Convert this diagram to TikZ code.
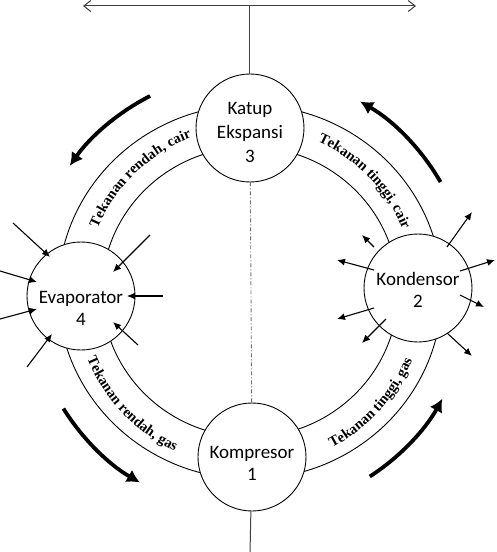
\documentclass[tikz,border=0pt]{standalone}
\usepackage{fontspec}
\setmainfont{Carlito}
\newfontfamily\serifb{Liberation Serif Bold}
\usepackage{tikz}
\usetikzlibrary{shapes, arrows.meta, positioning, decorations.text}
\tikzstyle{unit} = [draw, circle, fill=white, line width=0.9pt, minimum size=108pt, inner sep=0pt, align=center, text depth=0pt, font=\fontsize{19}{22}\selectfont]
\tikzstyle{heat} = [->, line width=1.1pt, >={Latex[length=8pt,width=7pt]}]
\tikzstyle{flow} = [->, line width=3.8pt, >={Latex[length=13pt,width=14pt]}]
\tikzstyle{axis} = [line width=1pt, black!75]
\tikzstyle{lbl} = [decorate, decoration={text along path, text align=center}]
\newcommand{\lblfont}{\fontsize{14.5}{16}\selectfont\serifb}

\begin{document}
\begin{tikzpicture}[x=1pt, y=1pt]
  \useasboundingbox (-250,-260) rectangle (247,292);
  \draw[line width=0.9pt] (0,0) ellipse [x radius=192, y radius=187];
  \draw[line width=0.9pt] (0,0) ellipse [x radius=148, y radius=145];

  \node[unit, font=\fontsize{19}{24}\selectfont, text height=70pt] (katup) at (0,164) {Katup\\Ekspansi\\3};
  \node[unit, text height=46pt] (kompresor) at (2,-165) {Kompresor\\1};
  \node[unit, text height=58pt] (evap) at (-169,-4) {Evaporator\\4};
  \node[unit, text height=38pt] (kond) at (168,4) {Kondensor\\2};

  \coordinate (axisL) at (-167,286);
  \coordinate (axisR) at (166,286);
  \coordinate (axisM) at (0,286);
  \coordinate (base) at (0,-262);

  \draw[axis, {Straight Barb[length=7pt,width=11pt]}-{Straight Barb[length=7pt,width=11pt]}] (axisL) -- (axisR);
  \draw[axis] (axisM) -- (katup);
  \draw[axis] (kompresor) -- (base);
  \draw[black!55, line width=0.9pt, dash pattern=on 4pt off 2pt on 1pt off 2pt] (katup) -- (kompresor);

  \path[lbl, decoration={text={|\lblfont|Tekanan rendah, cair}}] (167:165) arc[start angle=167, end angle=101, radius=165];
  \path[lbl, decoration={text={|\lblfont|Tekanan tinggi, cair}}] (77:165) arc[start angle=77, end angle=11, radius=165];
  \path[lbl, decoration={text={|\lblfont|Tekanan rendah, gas}}] (192:176) arc[start angle=192, end angle=255, radius=176];
  \path[lbl, decoration={text={|\lblfont|Tekanan tinggi, gas}}] (-74:176) arc[start angle=-74, end angle=-11, radius=176];

  \draw[flow] (30:220) arc[start angle=30, end angle=60, radius=220];
  \draw[flow] (117:220) arc[start angle=117, end angle=145, radius=220];
  \draw[flow] (212:220) arc[start angle=212, end angle=240, radius=220];
  \draw[flow] (303:220) arc[start angle=303, end angle=331, radius=220];

  \draw[heat] ([shift={(-68,73)}]evap.center) -- ([shift={(-31,39)}]evap.center);
  \draw[heat] ([shift={(-81,25)}]evap.center) -- ([shift={(-44,14)}]evap.center);
  \draw[heat] ([shift={(-81,-23)}]evap.center) -- ([shift={(-44,-13)}]evap.center);
  \draw[heat] ([shift={(-54,-71)}]evap.center) -- ([shift={(-29,-38)}]evap.center);
  \draw[heat] ([shift={(69,61)}]evap.center) -- ([shift={(32,24)}]evap.center);
  \draw[heat] ([shift={(82,0)}]evap.center) -- ([shift={(46,0)}]evap.center);
  \draw[heat] ([shift={(57,-49)}]evap.center) -- ([shift={(32,-26)}]evap.center);

  \draw[heat] ([shift={(29,41)}]kond.center) -- ([shift={(54,76)}]kond.center);
  \draw[heat] ([shift={(42,17)}]kond.center) -- ([shift={(77,28)}]kond.center);
  \draw[heat] ([shift={(42,-7)}]kond.center) -- ([shift={(66,-19)}]kond.center);
  \draw[heat] ([shift={(29,-45)}]kond.center) -- ([shift={(54,-68)}]kond.center);
  \draw[heat] ([shift={(-32,-31)}]kond.center) -- ([shift={(-56,-55)}]kond.center);
  \draw[heat] ([shift={(-44,-20)}]kond.center) -- ([shift={(-81,-31)}]kond.center);
  \draw[heat] ([shift={(-44,18)}]kond.center) -- ([shift={(-81,28)}]kond.center);
  \draw[heat] ([shift={(-44,41)}]kond.center) -- ([shift={(-56,53)}]kond.center);
\end{tikzpicture}
\end{document}
